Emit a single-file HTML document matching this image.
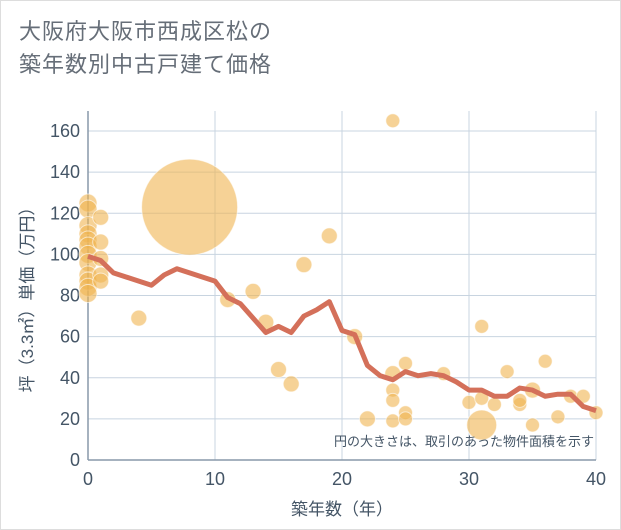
<!DOCTYPE html>
<html><head><meta charset="utf-8">
<style>
body{margin:0;background:#fff;}
#wrap{position:relative;width:619px;height:528px;border:1px solid #ddd;background:#fff;font-family:"Liberation Sans","Noto Sans CJK JP",sans-serif;}
.title{position:absolute;left:18px;top:14px;font-size:22px;line-height:33px;color:#666e78;letter-spacing:1px;}
</style></head><body>
<div id="wrap">
<div class="title">大阪府大阪市西成区松の<br>築年数別中古戸建て価格</div>
<svg id="chart" width="621" height="530" style="position:absolute;left:-1px;top:-1px"></svg>
</div>
<script>
const xTicks=[0,10,20,30,40];
const yTicks=[0,20,40,60,80,100,120,140,160];
const lineYears=[0,1,2,3,4,5,6,7,8,9,10,11,12,13,14,15,16,17,18,19,20,21,22,23,24,25,26,27,28,29,30,31,32,33,34,35,36,37,38,39,40];
const lineValues=[99,97,91,89,87,85,90,93,91,89,87,79,76,69,62,65,62,70,73,77,63,61,46,41,39,43,41,42,41,38,34,34,31,31,35,34,31,32,32,26,24];
const ptYears=[8,0,0,0,0,0,0,0,0,0,0,0,0,1,1,1,1,1,4,11,13,14,15,16,17,19,21,22,24,24,24,24,24,25,25,25,28,30,31,31,31,32,33,34,34,35,35,36,37,38,39,40];
const ptValues=[123,125,122,114,110,107,104,100,96,90,87,84,81,118,106,98,90,87,69,78,82,67,44,37,95,109,60,20,165,42,34,29,19,47,23,20,42,28,65,30,17,27,43,27,29,34,17,48,21,31,31,23];
const ptSizes=[48,9,9,9,9,9,9,9,9,9,9,9,9,8,8,8,8,8,8,8,8,8,8,8,8,8,8,8,7,8,7,7,7,7,7,7,7,7,7,7,15,7,7,7,7,8,7,7,7,7,7,7];
const NS='http://www.w3.org/2000/svg';
const svg=document.getElementById('chart');
const X0=88,X1=596,Y0=460,Y1=131;
const sx=v=>X0+(v-0)/40*(X1-X0);
const sy=v=>Y0-(v/160)*(Y0-Y1);
function mk(t,a,p){const e=document.createElementNS(NS,t);for(const k in a)e.setAttribute(k,a[k]);(p||svg).appendChild(e);return e;}
const grid=mk('g',{});


yTicks.forEach(v=>{const l=mk('line',{x1:X0,x2:X1,y1:sy(v),y2:sy(v),stroke:'#c8d4e0','stroke-width':1},grid);


const t=mk('text',{x:X0-8,y:sy(v)+6,'text-anchor':'end','font-size':18,fill:'#445566'});t.textContent=v;

});
xTicks.forEach(v=>{const l=mk('line',{x1:sx(v),x2:sx(v),y1:Y1-20,y2:Y0,stroke:'#c8d4e0','stroke-width':1},grid);


const t=mk('text',{x:sx(v),y:Y0+25,'text-anchor':'middle','font-size':18,fill:'#445566'});t.textContent=v;

});
const ax=mk('line',{x1:X0,x2:X0,y1:Y1-20,y2:Y0,stroke:'#8899aa','stroke-width':1.5});


const bx=mk('line',{x1:X0,x2:X1,y1:Y0,y2:Y0,stroke:'#8899aa','stroke-width':1.5});


const pts=mk('g',{});


ptYears.forEach((y,i)=>{const c=mk('circle',{cx:sx(y),cy:sy(ptValues[i]),r:ptSizes[i],fill:'#f0b450','fill-opacity':0.6,stroke:'#fff','stroke-opacity':0.6,'stroke-width':1},pts);

});
const d=lineYears.map((y,i)=>(i?'L':'M')+sx(y)+','+sy(lineValues[i])).join(' ');
const ln=mk('path',{d:d,fill:'none',stroke:'#d4705a','stroke-width':5,'stroke-linejoin':'round'});


const note=mk('text',{x:594,y:446,'text-anchor':'end','font-size':13,fill:'#445566'});note.textContent='円の大きさは、取引のあった物件面積を示す';


const xt=mk('text',{x:sx(20),y:515,'text-anchor':'middle','font-size':17,fill:'#445566'});xt.textContent='築年数（年）';


const yt=mk('text',{x:0,y:0,'text-anchor':'middle','font-size':17,fill:'#445566',transform:'translate(33,'+((Y0+Y1)/2)+') rotate(-90)'});yt.textContent='坪（3.3㎡）単価（万円）';


</script>
</body></html>
